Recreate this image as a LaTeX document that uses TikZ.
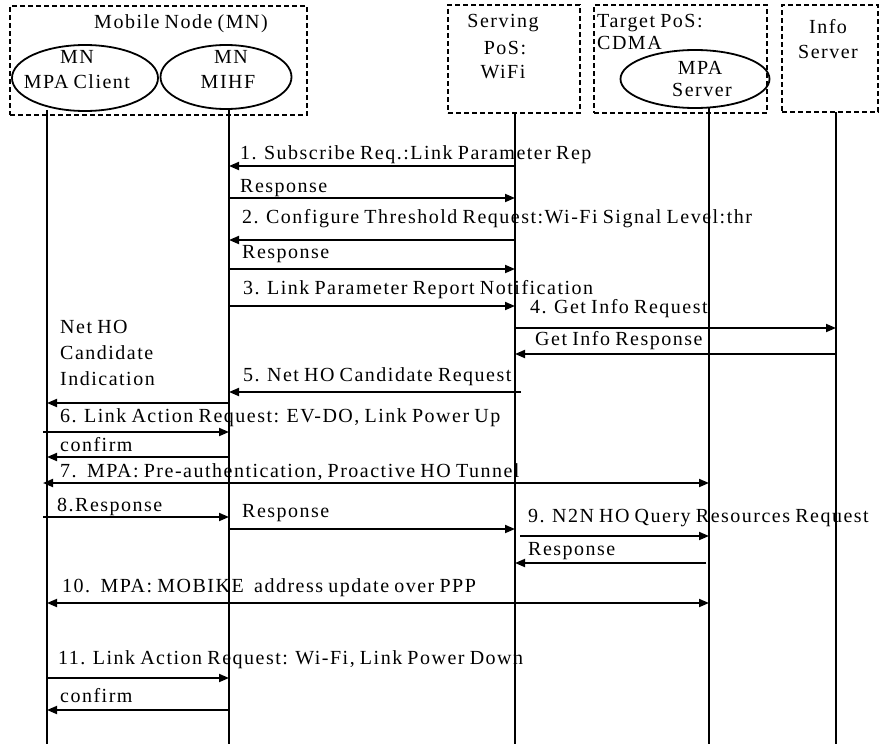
\documentclass[tikz,border=0pt]{standalone}
\usepackage{fontspec}
\setmainfont{Liberation Serif}[LetterSpace=7.5,WordSpace=0.8]
\usetikzlibrary{arrows.meta,shapes.geometric}
\begin{document}
\begin{tikzpicture}[x=1pt,y=-1pt,
  font=\fontsize{20}{26}\selectfont,
  pbox/.style={draw,line width=1.8pt,dash pattern=on 5pt off 3pt,inner sep=0pt},
  fn/.style={draw,ellipse,line width=1.8pt,inner sep=0pt},
  life/.style={line width=1.8pt},
  msg/.style={line width=1.8pt,-{Triangle[length=10pt,width=8pt]}},
  bmsg/.style={line width=1.8pt,{Triangle[length=10pt,width=8pt]}-{Triangle[length=10pt,width=8pt]}},
  lbl/.style={anchor=west,inner sep=0pt},
  ctr/.style={inner sep=0pt}
]
\useasboundingbox (0,0) rectangle (882,744);

% entity boxes
\node[pbox,minimum width=297pt,minimum height=109pt] (mnbox) at (158.5,60.5) {};
\node[pbox,minimum width=132pt,minimum height=108pt] (wifibox) at (514,59) {};
\node[pbox,minimum width=173pt,minimum height=108pt] (cdmabox) at (680.5,59) {};
\node[pbox,minimum width=96pt,minimum height=107pt] (infobox) at (830,58.5) {};

\node[fn,minimum width=146pt,minimum height=66pt] (client) at (85,78) {};
\node[fn,minimum width=131pt,minimum height=64pt] (mihf) at (226,77) {};
\node[fn,minimum width=149pt,minimum height=58pt] (server) at (695,79) {};

% entity labels
\node[ctr] (tmn) at (181,24) {Mobile Node (MN)};
\node[ctr] (tc1) at (77,57) {MN};
\node[ctr] (tc2) at (77,82) {MPA Client};
\node[ctr] (tm1) at (231,57) {MN};
\node[ctr] (tm2) at (228,82) {MIHF};
\node[ctr] (tw1) at (503,23) {Serving};
\node[ctr] (tw2) at (505,48) {PoS:};
\node[ctr] (tw3) at (503,72) {WiFi};
\node[lbl] (tt1) at (597,23) {Target PoS:};
\node[lbl] (tt2) at (597,43) {CDMA};
\node[ctr] (ts1) at (700,68) {MPA};
\node[ctr] (ts2) at (702,90) {Server};
\node[ctr] (ti1) at (828,27) {Info};
\node[ctr] (ti2) at (828,52) {Server};

% lifelines
\coordinate (cT) at (47,110);   \coordinate (cB) at (47,744);
\coordinate (hT) at (229,109);  \coordinate (hB) at (229,744);
\coordinate (wT) at (515,113);  \coordinate (wB) at (515,744);
\coordinate (sT) at (709,108);  \coordinate (sB) at (709,744);
\coordinate (iT) at (836,112);  \coordinate (iB) at (836,744);
\draw[life] (cT) -- (cB);
\draw[life] (hT) -- (hB);
\draw[life] (wT) -- (wB);
\draw[life] (sT) -- (sB);
\draw[life] (iT) -- (iB);

% messages
\draw[msg] (wT |- 0,166) -- (hT |- 0,166);
\node[lbl] (l1) at (240,155) {1. Subscribe Req.:Link Parameter Rep};
\draw[msg] (hT |- 0,198) -- (wT |- 0,198);
\node[lbl] (l1r) at (240,188) {Response};
\draw[msg] (wT |- 0,240) -- (hT |- 0,240);
\node[lbl] (l2) at (242,219) {2. Configure Threshold Request:Wi-Fi Signal Level:thr};
\draw[msg] (hT |- 0,269) -- (wT |- 0,269);
\node[lbl] (l2r) at (242,254) {Response};
\draw[msg] (hT |- 0,306) -- (wT |- 0,306);
\node[lbl] (l3) at (243,290) {3. Link Parameter Report Notification};
\draw[msg] (wT |- 0,328) -- (iT |- 0,328);
\node[lbl] (l4) at (530,309) {4. Get Info Request};
\draw[msg] (iT |- 0,354) -- (wT |- 0,354);
\node[lbl] (l4r) at (535,341) {Get Info Response};
\draw[msg] ([xshift=6pt]wT |- 0,392) -- (hT |- 0,392);
\node[lbl] (l5) at (243,377) {5. Net HO Candidate Request};
\draw[msg] (hT |- 0,403) -- (cT |- 0,403);
\node[lbl,align=left,anchor=north west] (l5i) at (60,320) {Net HO\\Candidate\\Indication};
\draw[msg] ([xshift=-4pt]cT |- 0,432) -- (hT |- 0,432);
\node[lbl] (l6) at (60,418) {6. Link Action Request: EV-DO, Link Power Up};
\draw[msg] (hT |- 0,457) -- (cT |- 0,457);
\node[lbl] (l6c) at (60,445) {confirm};
\draw[bmsg] ([xshift=-4pt]cT |- 0,483) -- (sT |- 0,483);
\node[lbl] (l7) at (60,472) {7.\ \ MPA: Pre-authentication, Proactive HO Tunnel};
\draw[msg] ([xshift=-4pt]cT |- 0,517) -- (hT |- 0,517);
\node[lbl] (l8) at (57,507) {8.Response};
\draw[msg] (hT |- 0,529) -- (wT |- 0,529);
\node[lbl] (l8r) at (242,513) {Response};
\draw[msg] ([xshift=5pt]wT |- 0,536) -- (sT |- 0,536);
\node[lbl] (l9) at (528,518) {9. N2N HO Query Resources Request};
\draw[msg] ([xshift=-3pt]sT |- 0,563) -- (wT |- 0,563);
\node[lbl] (l9r) at (528,551) {Response};
\draw[bmsg] (cT |- 0,603) -- (sT |- 0,603);
\node[lbl] (l10) at (62,588) {10.\ \ MPA: MOBIKE\ \ address update over PPP};
\draw[msg] (cT |- 0,678) -- (hT |- 0,678);
\node[lbl] (l11) at (58,660) {11. Link Action Request: Wi-Fi, Link Power Down};
\draw[msg] (hT |- 0,710) -- (cT |- 0,710);
\node[lbl] (l11c) at (60,696) {confirm};
\end{tikzpicture}
\end{document}
